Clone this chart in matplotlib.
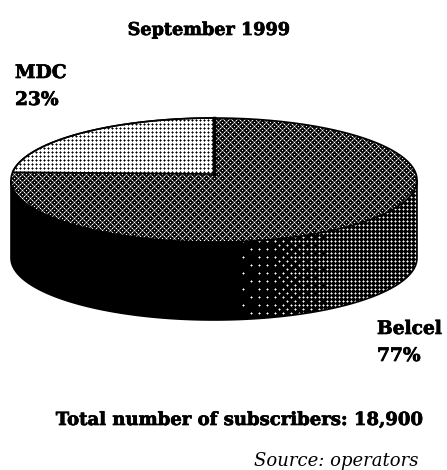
import numpy as np
import matplotlib
matplotlib.use('Agg')
import matplotlib.pyplot as plt
from matplotlib.patches import Polygon
import matplotlib.patheffects as pe

# Data
labels = ['MDC', 'Belcel']
shares = [23, 77]
title = 'September 1999'
total_label = 'Total number of subscribers: 18,900'
source_label = 'Source: operators'

W, H = 447, 470

# Pie geometry in pixels
cx, cy = 214, 180
rx, ry = 203, 62
depth = 78
apex_y = 174

fig = plt.figure(figsize=(W / 100, H / 100), dpi=100)
ax = fig.add_axes([0, 0, 1, 1])
ax.set_xlim(0, W)
ax.set_ylim(H, 0)
ax.axis('off')


def soften(tex, amount=0.4):
    # the original is a resampled bitmap, so dots bleed into their neighbours
    near = sum(np.roll(tex, s, axis=a) for s in (-1, 1) for a in (0, 1))
    return np.clip(tex + amount * near, 0, 1)


# Dither textures, one value per pixel (1 = white)
yy, xx = np.indices((H, W))

# MDC top: white with a 4px grid of black dots
tex_mdc = 1 - soften(((xx % 4 == 0) & (yy % 4 == 0)).astype(float), 0.6)

# Belcel top: dark with a white lattice and faint x shapes
tile = np.zeros((8, 8))
for i in range(8):
    for j in range(8):
        if (i % 4 == 0 and j % 4 == 0) or (i % 4 == 2 and j % 4 == 2):
            tile[i, j] = 1
for i, j in [(1, 1), (1, 3), (3, 1), (3, 3), (5, 5), (5, 7), (7, 5), (7, 7)]:
    tile[i, j] = 0.5
tex_top = soften(tile[yy % 8, xx % 8], 0.1)

# Side wall: black on the left, ordered dither towards a 4px white grid on the right
bayer = np.array([[0, 8, 2, 10], [12, 4, 14, 6], [3, 11, 1, 9], [15, 7, 13, 5]])
level = np.clip((xx - 236) / (338 - 236), 0, 1)
thresh = (bayer[(yy // 4) % 4, (xx // 4) % 4] + 0.5) / 16
tex_wall = soften(((xx % 4 == 3) & (yy % 4 == 1) & (level > thresh)).astype(float), 0.55)


def arc(t0, t1, y0=cy, n=200):
    t = np.radians(np.linspace(t0, t1, n))
    return np.column_stack([cx + rx * np.cos(t), y0 - ry * np.sin(t)])


def textured(points, tex, edge=None):
    patch = Polygon(points, closed=True, fc='none', ec=edge or 'none', lw=1.2, zorder=3)
    ax.add_patch(patch)
    im = ax.imshow(tex, cmap='gray', vmin=0, vmax=1, extent=(0, W, H, 0),
                   interpolation='nearest', aspect='auto', zorder=2)
    im.set_clip_path(patch)
    return patch


# wall first, then the two top faces
wall = np.vstack([arc(180, 360, cy), arc(360, 180, cy + depth)])
textured(wall, tex_wall, 'black')
textured(arc(0, 360), tex_top)
rim = arc(0, 180)
ax.plot(rim[:, 0], rim[:, 1], color='black', lw=1.2, zorder=4)

mdc_end = 90 + 360 * shares[0] / sum(shares)
mdc = np.vstack([arc(90, mdc_end), [[cx, apex_y]]])
textured(mdc, tex_mdc, 'black')
ax.plot([cx, cx], [cy - ry, apex_y], color='black', lw=2.5, zorder=4)
ax.set_xlim(0, W)
ax.set_ylim(H, 0)

# Text
serif = 'DejaVu Serif'
heavy = [pe.withStroke(linewidth=0.5, foreground='black')]
bold = dict(family=serif, weight='bold', va='center', path_effects=heavy)
ax.text(209, 30, title, fontsize=12.7, ha='center', **bold)
ax.text(15, 73, labels[0], fontsize=13.4, ha='left', **bold)
ax.text(15, 100, f'{shares[0]}%', fontsize=13.4, ha='left', **bold)
ax.text(377, 329, labels[1], fontsize=13.4, ha='left', **bold)
ax.text(377, 356, f'{shares[1]}%', fontsize=13.4, ha='left', **bold)
ax.text(239, 420, total_label, fontsize=13, ha='center', **bold)
ax.text(418, 461, source_label, family=serif, style='italic', fontsize=13, ha='right', va='center')

fig.savefig('out.png', dpi=100, facecolor='white')
